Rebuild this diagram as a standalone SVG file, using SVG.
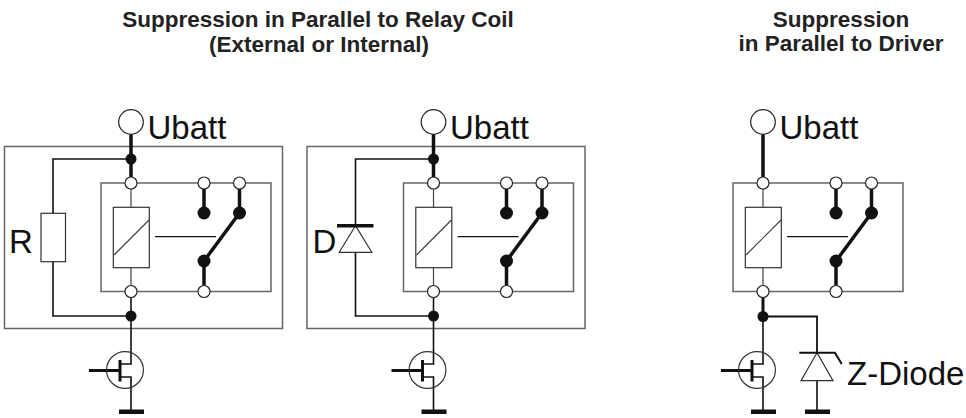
<svg xmlns="http://www.w3.org/2000/svg" width="966" height="418" viewBox="0 0 966 418">
<style>
.title{font-family:"Liberation Sans",Arial,sans-serif;font-weight:bold;font-size:22.5px;fill:#222;text-anchor:middle}
.lbl{font-family:"Liberation Sans",Arial,sans-serif;font-size:33px;fill:#111}
.box{fill:none;stroke:#666;stroke-width:1.5}
.thick{stroke:#111;stroke-width:3.5;fill:none}
.thin{stroke:#111;stroke-width:1.6;fill:none}
.gray{stroke:#444;stroke-width:1.2;fill:none}
.open{fill:#fff;stroke:#222;stroke-width:1.2}
.dot{fill:#111}
.sym{fill:#fff;stroke:#333;stroke-width:1.2}
</style>
<defs>
<g id="relay">
<rect class="box" x="-30" y="183" width="170" height="108.5"/>
<line class="gray" x1="0" y1="189" x2="0" y2="207.3"/>
<line class="gray" x1="0" y1="267.7" x2="0" y2="285.5"/>
<rect class="sym" x="-17.7" y="207.3" width="36" height="60.4"/>
<line class="gray" x1="-17" y1="255" x2="18" y2="220"/>
<line class="thin" x1="24" y1="236.7" x2="85" y2="236.7" style="stroke-width:1.2"/>
<path class="thick" d="M73,189V213M108.5,189V213M73,285.5V261L108.5,213"/>
<circle class="dot" cx="73" cy="213" r="6.5"/>
<circle class="dot" cx="108.5" cy="213" r="6.5"/>
<circle class="dot" cx="73" cy="261" r="6.5"/>
<circle class="open" cx="0" cy="183" r="6"/>
<circle class="open" cx="73" cy="183" r="6"/>
<circle class="open" cx="108.5" cy="183" r="6"/>
<circle class="open" cx="0" cy="291.5" r="6"/>
<circle class="open" cx="73" cy="291.5" r="6"/>
</g>
<g id="ubatt">
<line class="thick" x1="0" y1="134" x2="0" y2="177"/>
<circle class="open" cx="0" cy="122" r="12.3"/>
<text class="lbl" x="16.5" y="139">Ubatt</text>
</g>
<g id="fet">
<path class="thin" d="M0,316V364H-11M-11,377H0V410"/>
<line class="thick" x1="-42" y1="370.5" x2="-11" y2="370.5" style="stroke-width:3"/>
<line class="thick" x1="-11" y1="360" x2="-11" y2="381.5" style="stroke-width:3"/>
<circle cx="-6" cy="370" r="18.4" fill="none" stroke="#333" stroke-width="1.2"/>
<rect x="-12" y="409.5" width="25" height="4.5" fill="#111"/>
</g>
</defs>

<g id="title-left">
<text class="title" x="318" y="27">Suppression in Parallel to Relay Coil</text>
<text class="title" x="319" y="51.5">(External or Internal)</text>
</g>
<g id="title-right">
<text class="title" x="841" y="27">Suppression</text>
<text class="title" x="841" y="51">in Parallel to Driver</text>
</g>

<g id="connectors">
<g transform="translate(131,0)">
<path class="thin" d="M0,159H-78V316H0"/>
<line class="thin" x1="0" y1="297.5" x2="0" y2="316"/>
</g>
<g transform="translate(433.5,0)">
<path class="thin" d="M0,159H-78V316H0"/>
<line class="thin" x1="0" y1="297.5" x2="0" y2="316"/>
</g>
<g transform="translate(763,0)">
<line class="thick" x1="0" y1="297.5" x2="0" y2="316" style="stroke-width:3"/>
<path class="thin" d="M0,316.5H54V353" style="stroke-width:1.8"/>
</g>
</g>

<g id="circuit-r">
<rect class="box" x="4.5" y="146.5" width="278" height="182"/>
<g transform="translate(131,0)">
<use href="#ubatt"/>
<use href="#relay"/>
<use href="#fet"/>
<circle class="dot" cx="0" cy="159" r="5.5"/>
<circle class="dot" cx="0" cy="316" r="5.5"/>
<rect class="sym" x="-90" y="213.3" width="24.5" height="48.4"/>
</g>
<text class="lbl" x="9" y="253.3">R</text>
</g>

<g id="circuit-d">
<rect class="box" x="307" y="146.5" width="278" height="182"/>
<g transform="translate(433.5,0)">
<use href="#ubatt"/>
<use href="#relay"/>
<use href="#fet"/>
<circle class="dot" cx="0" cy="159" r="5.5"/>
<circle class="dot" cx="0" cy="316" r="5.5"/>
<polygon class="sym" points="-78,225.7 -94.3,252.3 -61.7,252.3"/>
<line class="thick" x1="-96.5" y1="225.7" x2="-60" y2="225.7"/>
</g>
<text class="lbl" x="312.5" y="253.3">D</text>
</g>

<g id="circuit-z">
<g transform="translate(763,0)">
<use href="#ubatt"/>
<use href="#relay"/>
<use href="#fet"/>
<circle class="dot" cx="0" cy="316.5" r="5.5"/>
</g>
<g id="z-diode">
<line class="thin" x1="817" y1="380.7" x2="817" y2="410"/>
<polygon class="sym" points="817,352.7 801,380.7 833,380.7"/>
<path d="M799.3,352.7H835L841.7,364" fill="none" stroke="#111" stroke-width="2"/>
<rect x="805" y="409.5" width="25" height="4.5" fill="#111"/>
<text class="lbl" x="847" y="385">Z-Diode</text>
</g>
</g>
</svg>
